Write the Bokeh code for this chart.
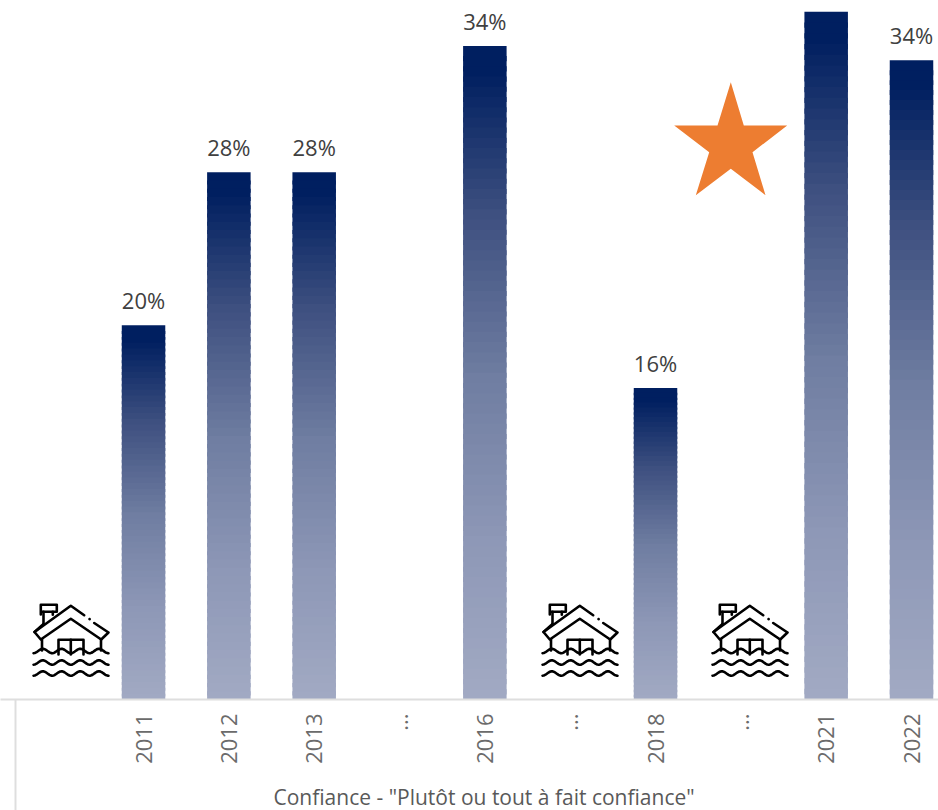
from math import pi
import numpy as np
from bokeh.embed import file_html
from bokeh.resources import INLINE
from bokeh.plotting import figure
from bokeh.models import ColumnDataSource, FixedTicker, Range1d, Title
from bokeh.core.properties import value

categories = ["", "2011", "2012", "2013", "...", "2016", "...", "2018", "...", "2021", "2022"]
bar_positions = [1, 2, 3, 5, 7, 9, 10]
bar_values = [19.7, 27.75, 27.75, 34.4, 16.4, 36.2, 33.65]
bar_labels = ["20%", "28%", "28%", "34%", "16%", "", "34%"]
flood_positions = [0, 5, 7]
grad_pos = [0.0, 0.03, 0.25, 0.5, 0.75, 1.0]
grad_r = [0, 0, 62, 112, 142, 163]
grad_g = [31, 31, 80, 126, 152, 171]
grad_b = [96, 96, 128, 162, 183, 196]

W, H, BASE = 938, 810, 699
STEP, XC0, PX_PER_PCT = 85.33, 57.7, 19.0


def dx(px):
    return px / STEP


def fx(px):
    return (px - XC0) / STEP


def fy(py):
    return (BASE - py) / PX_PER_PCT


p = figure(width=W, height=H, output_backend="svg", toolbar_location=None,
           x_range=Range1d(fx(0), fx(W)), y_range=Range1d(0, fy(0)),
           min_border=0, min_border_bottom=H - BASE, min_border_left=0, min_border_right=0,
           min_border_top=0, outline_line_color=None, background_fill_color="white",
           border_fill_color="white", margin=(0, 0, 0, 0))
p.grid.visible = False
p.yaxis.visible = False

ax = p.xaxis[0]
ax.ticker = FixedTicker(ticks=list(range(len(categories))), minor_ticks=[-0.5])
ax.major_label_overrides = {i: c for i, c in enumerate(categories)}
ax.major_label_orientation = pi / 2
ax.major_label_text_font = "Open Sans"
ax.major_label_text_font_size = "22px"
ax.major_label_text_color = "#6b6b6b"
ax.major_label_standoff = 14 - (H - BASE)
ax.major_tick_line_color = None
ax.minor_tick_line_color = "#dedede"
ax.minor_tick_line_width = 2
ax.minor_tick_in = 0
ax.minor_tick_out = H - BASE
ax.axis_line_color = "#dedede"
ax.axis_line_width = 2
ax.axis_label = " "
ax.axis_label_text_font_size = "10px"
ax.axis_label_standoff = 0

p.add_layout(Title(text='Confiance - "Plutôt ou tout à fait confiance"', align="left", offset=273,
                   standoff=0, text_font="Open Sans", text_font_size="21px",
                   text_font_style="normal", text_color="#595959"), "below")

# gradient bars: each band overlaps the next one so that no seams show
N = 64
xs, tops, bottoms, cols = [], [], [], []
for pos, val in zip(bar_positions, bar_values):
    for k in range(N):
        t = k / N
        r = int(np.interp(t, grad_pos, grad_r))
        g = int(np.interp(t, grad_pos, grad_g))
        b = int(np.interp(t, grad_pos, grad_b))
        xs.append(pos)
        tops.append(val * (1 - t))
        bottoms.append(max(0.0, val * (1 - t - 1.5 / N)))
        cols.append(f"#{r:02x}{g:02x}{b:02x}")
p.vbar(x=xs, top=tops, bottom=bottoms, width=dx(43.5), fill_color=cols, line_color=None)

src = ColumnDataSource(dict(x=bar_positions, y=bar_values, t=bar_labels))
p.text(x="x", y="y", text="t", source=src, text_align="center", text_baseline="bottom",
       y_offset=-10, text_font=value("Open Sans"), text_font_size="22px", text_color="#404040")

# star (icon-like decoration)
star_px = [(730.3, 81.7), (743.3, 125), (786.7, 125), (752, 151.7), (765, 194.7),
           (730.3, 168.3), (695.3, 194.7), (708.7, 151.7), (673.7, 125), (717, 125)]
p.patch([fx(a) for a, _ in star_px], [fy(b) for _, b in star_px], fill_color="#ed7d31", line_color=None)

# flood house icon, in pixels relative to its left edge / top, drawn per position
icon_paths = [
    [(7.3, 14), (7.3, 4.3), (23.3, 4.3), (23.3, 11.3), (7.3, 11.3)],
    [(10, 11.3), (10, 23.5)],
    [(19.3, 11.3), (19.3, 14.3)],
    [(10, 23.5), (1, 31.5), (7.3, 39), (37.3, 18.3), (67.7, 39), (75, 32), (60.7, 22.5)],
    [(1, 31.5), (37.3, 5.3), (50.7, 14.7)],
    [(56, 18.5), (56.2, 18.6)],
    [(8.5, 39), (8.5, 50)],
    [(67.5, 39), (67.5, 50)],
    [(25, 54), (25, 39.3), (50, 39.3), (50, 54)],
    [(37.3, 39.3), (37.3, 54)],
]
wave_x = np.arange(0, 76, 1.0)
wave_rows = [50.5, 62, 73]
ICON_LEFT = [33, 542, 712]
ICON_TOP = 600
ml_x, ml_y = [], []
for left, _pos in zip(ICON_LEFT, flood_positions):
    for path in icon_paths:
        ml_x.append([fx(left + a) for a, _ in path])
        ml_y.append([fy(ICON_TOP + b) for _, b in path])
    for row in wave_rows:
        ml_x.append([fx(left + a) for a in wave_x])
        ml_y.append([fy(ICON_TOP + row + 2.2 * np.cos(a / 18.7 * 2 * pi)) for a in wave_x])
p.multi_line(ml_x, ml_y, line_color="black", line_width=2.6, line_cap="round", line_join="round")

open("out.html", "w").write(file_html(p, INLINE))
